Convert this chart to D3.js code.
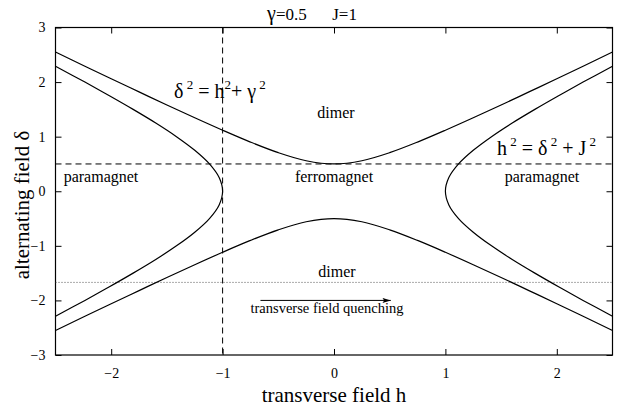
<!DOCTYPE html>
<html><head><meta charset="utf-8">
<script src="https://cdn.jsdelivr.net/npm/d3@7"></script>
<style>body{margin:0;background:#fff}svg{display:block}</style>
</head><body><svg id="c" width="633" height="415" font-family="'Liberation Serif', 'Times New Roman', Times, serif"></svg>
<script>
// Values
const xTicks = [-2, -1, 0, 1, 2];
const yTicks = [-3, -2, -1, 0, 1, 2, 3];
const gammaVal = 0.5;   // dashed horizontal line
const Jval = -1;        // dashed vertical line
const quenchLevel = -1.67; // dotted line
// upper branch of delta^2 = h^2 + gamma^2  ([h, delta])
const dimerUpper = [[-2.5,2.55],[-2.25,2.305],[-2,2.06],[-1.75,1.82],[-1.5,1.58],[-1.25,1.346],[-1,1.118],[-0.75,0.901],[-0.5,0.707],[-0.25,0.559],[0,0.5],[0.25,0.559],[0.5,0.707],[0.75,0.901],[1,1.118],[1.25,1.346],[1.5,1.58],[1.75,1.82],[2,2.06],[2.25,2.305],[2.5,2.55]];
const dimerLower = [[-2.5,-2.55],[-2.25,-2.305],[-2,-2.06],[-1.75,-1.82],[-1.5,-1.58],[-1.25,-1.346],[-1,-1.118],[-0.75,-0.901],[-0.5,-0.707],[-0.25,-0.559],[0,-0.5],[0.25,-0.559],[0.5,-0.707],[0.75,-0.901],[1,-1.118],[1.25,-1.346],[1.5,-1.58],[1.75,-1.82],[2,-2.06],[2.25,-2.305],[2.5,-2.55]];
// right and left branches of h^2 = delta^2 + J^2 ([h, delta])
const paraRight = [[2.5,-2.29],[2.236,-2],[2.016,-1.75],[1.803,-1.5],[1.6,-1.25],[1.414,-1],[1.25,-0.75],[1.118,-0.5],[1.031,-0.25],[1,0],[1.031,0.25],[1.118,0.5],[1.25,0.75],[1.414,1],[1.6,1.25],[1.803,1.5],[2.016,1.75],[2.236,2],[2.5,2.29]];
const paraLeft = [[-2.5,-2.29],[-2.236,-2],[-2.016,-1.75],[-1.803,-1.5],[-1.6,-1.25],[-1.414,-1],[-1.25,-0.75],[-1.118,-0.5],[-1.031,-0.25],[-1,0],[-1.031,0.25],[-1.118,0.5],[-1.25,0.75],[-1.414,1],[-1.6,1.25],[-1.803,1.5],[-2.016,1.75],[-2.236,2],[-2.5,2.29]];
const arrowSpan = [[-0.66,-2.0],[0.51,-2.0]];

const FONT = "'Liberation Serif', 'Times New Roman', Times, serif";
const svg = d3.select("#c");
const L=55.5, R=612.5, T=27.5, B=355;
const x = d3.scaleLinear().domain([-2.5,2.5]).range([L,R]);
const y = d3.scaleLinear().domain([-3,3]).range([B,T]);

const fmt = d => d<0 ? "\u2212"+Math.abs(d) : ""+d;
const ax = svg.append("g").attr("transform",`translate(0,${B})`).call(d3.axisBottom(x).tickValues(xTicks).tickSize(-6).tickPadding(13).tickFormat(fmt));
const axT = svg.append("g").attr("transform",`translate(0,${T})`).call(d3.axisTop(x).tickValues(xTicks).tickSize(-6).tickFormat(""));
const ay = svg.append("g").attr("transform",`translate(${L},0)`).call(d3.axisLeft(y).tickValues(yTicks).tickSize(-6).tickPadding(10).tickFormat(fmt));
const ayR = svg.append("g").attr("transform",`translate(${R},0)`).call(d3.axisRight(y).tickValues(yTicks).tickSize(-6).tickFormat(""));
[ax,axT,ay,ayR].forEach(g=>{g.attr("font-family",FONT).attr("font-size",14);g.select(".domain").remove();g.selectAll("line").attr("stroke","#000");g.selectAll("text").attr("fill","#000");});
svg.append("rect").attr("x",L).attr("y",T).attr("width",R-L).attr("height",B-T).attr("fill","none").attr("stroke","#000").attr("stroke-width",1.2);

svg.append("clipPath").attr("id","pc").append("rect").attr("x",L).attr("y",T).attr("width",R-L).attr("height",B-T);
const g = svg.append("g").attr("clip-path","url(#pc)");

g.append("line").attr("x1",x(-2.5)).attr("x2",x(2.5)).attr("y1",y(gammaVal)).attr("y2",y(gammaVal)).attr("stroke","#000").attr("stroke-dasharray","6,4");
g.append("line").attr("x1",x(Jval)).attr("x2",x(Jval)).attr("y1",y(3)).attr("y2",y(-3)).attr("stroke","#000").attr("stroke-dasharray","6,4");
g.append("line").attr("x1",x(-2.5)).attr("x2",x(2.5)).attr("y1",y(quenchLevel)).attr("y2",y(quenchLevel)).attr("stroke","#555").attr("stroke-dasharray","1,2");

const line = d3.line().x(d=>x(d[0])).y(d=>y(d[1])).curve(d3.curveCatmullRom);
[dimerUpper,dimerLower,paraRight,paraLeft].forEach(d=>{
  g.append("path").attr("d",line(d)).attr("fill","none").attr("stroke","#000").attr("stroke-width",1.2);
});

svg.append("defs").append("marker").attr("id","ah").attr("viewBox","0 0 10 6").attr("refX",10).attr("refY",3)
  .attr("markerWidth",11).attr("markerHeight",5).attr("markerUnits","userSpaceOnUse").attr("orient","auto")
  .append("path").attr("d","M0,0L10,3L0,6L2,3Z").attr("fill","#000");
svg.append("line").attr("x1",x(arrowSpan[0][0])).attr("y1",y(arrowSpan[0][1])).attr("x2",x(arrowSpan[1][0])).attr("y2",y(arrowSpan[1][1]))
  .attr("stroke","#000").attr("stroke-width",1).attr("marker-end","url(#ah)");

function txt(xx,yy,size,anchor){return svg.append("text").attr("x",xx).attr("y",yy).attr("font-family",FONT).attr("font-size",size).attr("text-anchor",anchor||"start").attr("fill","#000");}

// title
const tt = txt(312,20,17,"middle");
tt.append("tspan").attr("font-size",20).text("\u03b3");
tt.append("tspan").text("=0.5\u2003\u2002J=1");

// equation 1
const e1 = txt(174,98,20);
e1.append("tspan").text("\u03b4");
e1.append("tspan").attr("dy",-9).attr("font-size",13).text(" 2");
e1.append("tspan").attr("dy",9).text(" = h");
e1.append("tspan").attr("dy",-9).attr("font-size",13).text("2");
e1.append("tspan").attr("dy",9).text("+ \u03b3");
e1.append("tspan").attr("dy",-9).attr("font-size",13).text(" 2");

const e2 = txt(497,155,20);
e2.append("tspan").text("h");
e2.append("tspan").attr("dy",-9).attr("font-size",13).text(" 2");
e2.append("tspan").attr("dy",9).text(" =  \u03b4");
e2.append("tspan").attr("dy",-9).attr("font-size",13).text(" 2");
e2.append("tspan").attr("dy",9).text(" + J");
e2.append("tspan").attr("dy",-9).attr("font-size",13).text(" 2");

txt(336,118,16,"middle").text("dimer");
txt(337,277,16,"middle").text("dimer");
txt(334,182,16,"middle").text("ferromagnet");
txt(101,182,16,"middle").text("paramagnet");
txt(542,182,16,"middle").text("paramagnet");
txt(327,313,14.5,"middle").text("transverse field quenching");

txt(334,402,21,"middle").text("transverse field  h");
svg.append("text").attr("transform","translate(29,205) rotate(-90)").attr("font-family",FONT).attr("text-anchor","middle").attr("font-size",21).attr("fill","#000").text("alternating field  \u03b4");
</script></body></html>
